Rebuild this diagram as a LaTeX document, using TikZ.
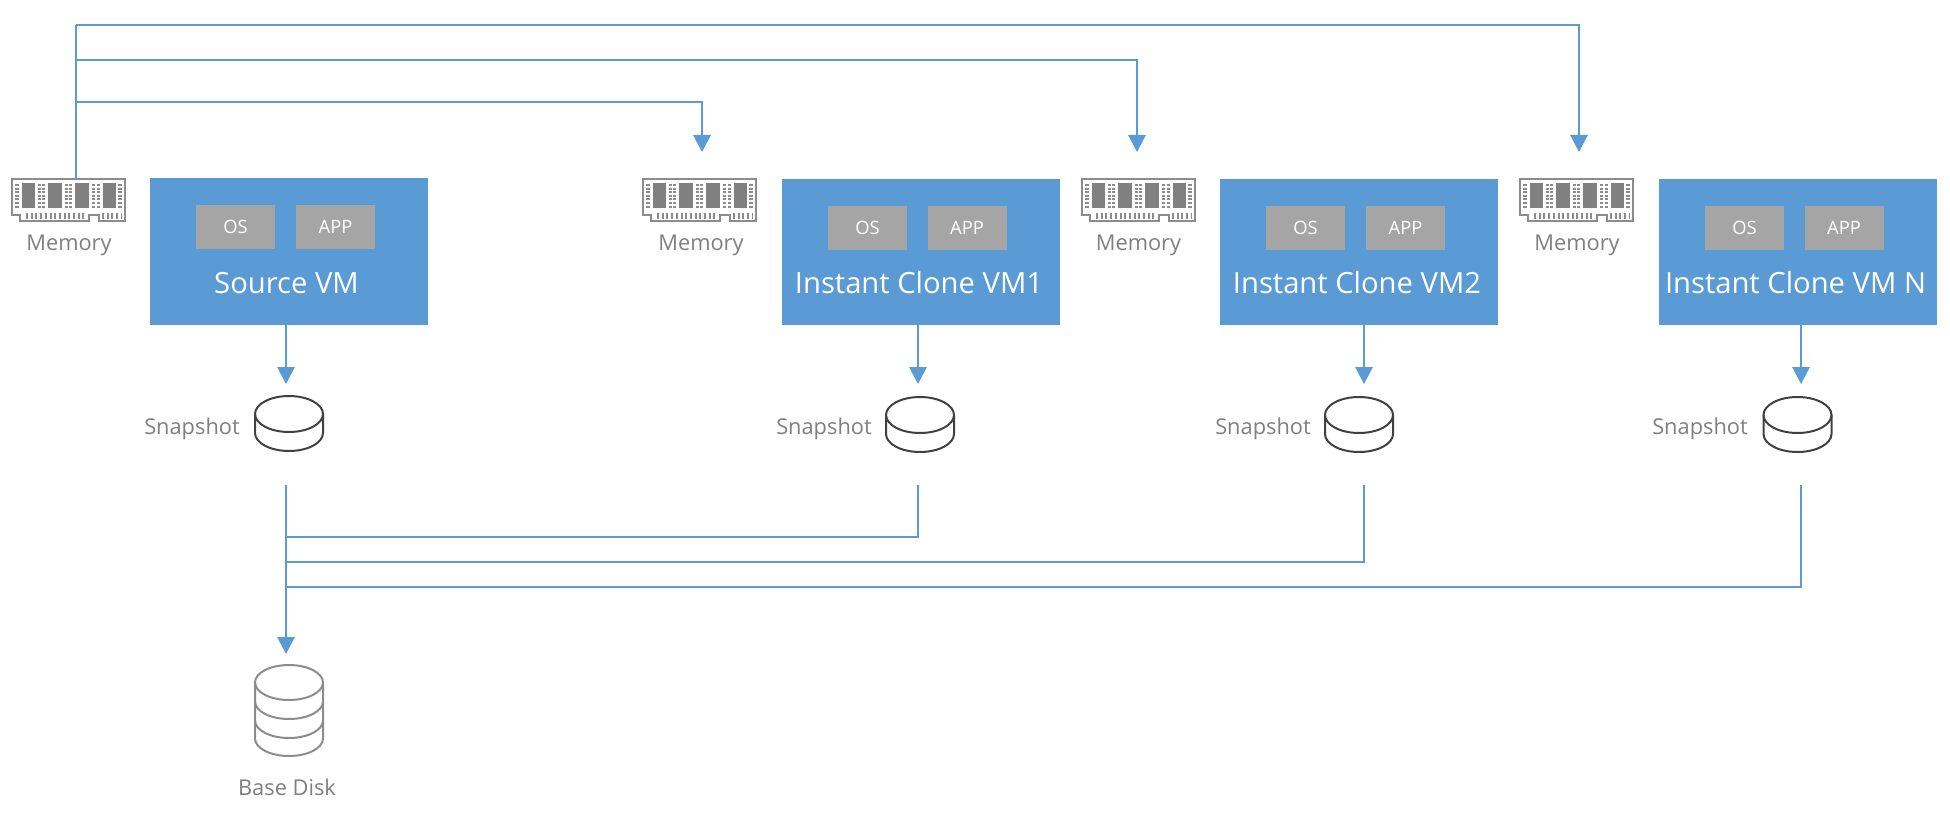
\documentclass[tikz,border=0pt]{standalone}
\usepackage{fontspec}
\usepackage{xcolor}
\setmainfont{Open Sans}
\usetikzlibrary{arrows.meta}
\definecolor{vmblue}{HTML}{5B9BD5}
\definecolor{appgray}{HTML}{A5A5A5}
\definecolor{textgray}{HTML}{7F7F7F}
\definecolor{ramgray}{HTML}{8C8C8C}
\definecolor{diskdark}{HTML}{404040}

\begin{document}
\begin{tikzpicture}[
    x=0.5pt, y=-0.5pt,
    vmbox/.style={rectangle, fill=vmblue, minimum width=139pt, minimum height=73pt, inner sep=0pt},
    appbox/.style={rectangle, fill=appgray, text=white, minimum width=39.5pt, minimum height=22pt, inner sep=0pt, font=\fontsize{9.2}{11}\selectfont},
    vmtitle/.style={text=white, inner sep=0pt, font=\fontsize{14.6}{17}\selectfont},
    graylabel/.style={text=textgray, inner sep=0pt, font=\fontsize{10.9}{13}\selectfont},
    link/.style={draw=vmblue, line width=0.9pt},
    linktip/.style={link, -{Triangle[width=8.7pt,length=8.5pt]}},
    ramicon/.pic={
        \draw[ramgray, line width=1pt] (0,0) -- (0,36) -- (8,36) -- (8,42) -- (77,42) -- (77,36) -- (87,36) -- (87,42) -- (113,42) -- (113,0) -- cycle;
        % chips
        \fill[gray] (10,4) rectangle (23,29);
        \fill[gray] (36,4) rectangle (50,29);
        \fill[gray] (63,4) rectangle (77,29);
        \fill[gray] (91,4) rectangle (104,29);
        % contacts beside the chips
        \draw[ramgray, line width=1.7pt, dash pattern=on 1pt off 0.8pt] (5,5) -- (5,29) (27.5,5) -- (27.5,29) (31.5,5) -- (31.5,29) (54.5,5) -- (54.5,29);
        \draw[ramgray, line width=1.7pt, dash pattern=on 1pt off 0.8pt] (58.5,5) -- (58.5,29) (81.5,5) -- (81.5,29) (86.5,5) -- (86.5,29) (108,5) -- (108,29);
        % pins
        \draw[ramgray, line width=3pt, dash pattern=on 1pt off 1.35pt] (14,36.5) -- (74,36.5) (90,36.5) -- (109,36.5);
        \coordinate (-feed) at (64,0);
    },
    snapicon/.pic={
        \draw[diskdark, line width=1pt] (0,0) ellipse [x radius=34, y radius=18];
        \draw[diskdark, line width=1pt] (-34,0) -- (-34,19) arc[start angle=180, end angle=0, x radius=34, y radius=18] -- (34,0);
    },
    baseicon/.pic={
        \draw[ramgray, line width=1pt] (0,0) ellipse [x radius=34, y radius=17.5];
        \draw[ramgray, line width=1pt] (-34,0) -- (-34,56) arc[start angle=180, end angle=0, x radius=34, y radius=17.5] -- (34,0);
        \draw[ramgray, line width=1pt] (-34,19) arc[start angle=180, end angle=0, x radius=34, y radius=17.5];
        \draw[ramgray, line width=1pt] (-34,38) arc[start angle=180, end angle=0, x radius=34, y radius=17.5];
    }
]
    \useasboundingbox (0,0) rectangle (1950,813);

    % Source VM column
    \pic (mem0) at (12,179) {ramicon};
    \node[graylabel] (memlbl0) at (69,245) {Memory};
    \node[vmbox] (vm0) at (289,251.5) {};
    \node[appbox] (os0) at (235.5,226.5) {OS};
    \node[appbox] (app0) at (335.5,226.5) {APP};
    \node[vmtitle] (title0) at (286.5,283) {Source VM};
    \node[graylabel] (snaplbl0) at (192,429) {Snapshot};
    \pic (disk0) at (289,414) {snapicon};

    % Instant clone 1
    \pic (mem1) at (643,179) {ramicon};
    \node[graylabel] (memlbl1) at (701,245) {Memory};
    \node[vmbox] (vm1) at (920.5,252) {};
    \node[appbox] (os1) at (867.5,227.5) {OS};
    \node[appbox] (app1) at (967,227.5) {APP};
    \node[vmtitle] (title1) at (919,283) {Instant Clone VM1};
    \node[graylabel] (snaplbl1) at (824,429) {Snapshot};
    \pic (disk1) at (920,415) {snapicon};

    % Instant clone 2
    \pic (mem2) at (1082,179) {ramicon};
    \node[graylabel] (memlbl2) at (1138.5,245) {Memory};
    \node[vmbox] (vm2) at (1359,252) {};
    \node[appbox] (os2) at (1305.5,227.5) {OS};
    \node[appbox] (app2) at (1405.5,227.5) {APP};
    \node[vmtitle] (title2) at (1357,283) {Instant Clone VM2};
    \node[graylabel] (snaplbl2) at (1263,429) {Snapshot};
    \pic (disk2) at (1359,415) {snapicon};

    % Instant clone N
    \pic (mem3) at (1520,179) {ramicon};
    \node[graylabel] (memlbl3) at (1577,245) {Memory};
    \node[vmbox] (vm3) at (1797.5,252) {};
    \node[appbox] (os3) at (1744.5,227.5) {OS};
    \node[appbox] (app3) at (1844,227.5) {APP};
    \node[vmtitle] (title3) at (1795.5,283) {Instant Clone VM N};
    \node[graylabel] (snaplbl3) at (1700,429) {Snapshot};
    \pic (disk3) at (1797.5,415) {snapicon};

    % Base disk
    \pic (base) at (289,682.5) {baseicon};
    \node[graylabel] (baselbl) at (287,787) {Base Disk};

    % Free ends of the connectors
    \coordinate (hub1) at (76,102);
    \coordinate (hub2) at (76,60);
    \coordinate (hub3) at (76,25);
    \coordinate (memtip1) at (702,152);
    \coordinate (memtip2) at (1137,152);
    \coordinate (memtip3) at (1579,152);
    \coordinate (snaptip0) at (286,384);
    \coordinate (snaptip1) at (918,384);
    \coordinate (snaptip2) at (1364,384);
    \coordinate (snaptip3) at (1801,384);
    \coordinate (out0) at (286,485);
    \coordinate (out1) at (918,485);
    \coordinate (out2) at (1364,485);
    \coordinate (out3) at (1801,485);
    \coordinate (join1) at (286,537);
    \coordinate (join2) at (286,562);
    \coordinate (join3) at (286,587);
    \coordinate (basetip) at (286,654);

    % Memory copies
    \draw[link] (mem0-feed) -- (hub3);
    \draw[linktip] (hub1) -| (memtip1);
    \draw[linktip] (hub2) -| (memtip2);
    \draw[linktip] (hub3) -| (memtip3);

    % VM to snapshot
    \draw[linktip] (vm0.south -| snaptip0) -- (snaptip0);
    \draw[linktip] (vm1.south -| snaptip1) -- (snaptip1);
    \draw[linktip] (vm2.south -| snaptip2) -- (snaptip2);
    \draw[linktip] (vm3.south -| snaptip3) -- (snaptip3);

    % Snapshots to base disk
    \draw[linktip] (out0) -- (basetip);
    \draw[link] (out1) |- (join1);
    \draw[link] (out2) |- (join2);
    \draw[link] (out3) |- (join3);
\end{tikzpicture}
\end{document}
